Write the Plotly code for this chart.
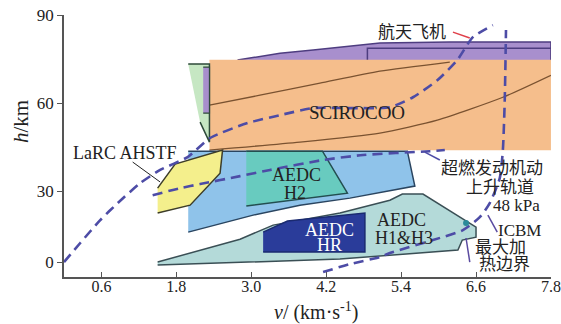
import plotly.graph_objects as go

# ---- axis ticks ----
x_tickvals = [0.6, 1.8, 3.0, 4.2, 5.4, 6.6, 7.8]
x_ticktext = ["0.6", "1.8", "3.0", "4.2", "5.4", "6.6", "7.8"]
y_tickvals = [5.8, 30, 60, 90]
y_ticktext = ["0", "30", "60", "90"]

# ---- regions (v in km/s, h in axis units) ----
shuttle_v = [2.78, 3.46, 3.99, 4.58, 5.06, 6.18, 7.80, 7.80]
shuttle_h = [74.7, 77.0, 78.1, 79.4, 80.5, 80.8, 80.8, 74.7]
shuttle_inner_v = [4.86, 4.86, 7.80]
shuttle_inner_h = [74.7, 78.75, 78.75]

sciro_v = [2.33, 7.80, 7.80, 2.33]
sciro_h = [74.7, 74.7, 44.0, 44.0]
sciro_up_v = [2.33, 3.14, 4.10, 5.06, 6.18]
sciro_up_h = [59.3, 62.7, 66.8, 70.9, 74.0]
sciro_lo_v = [2.33, 3.78, 5.06, 5.98, 7.03, 7.80]
sciro_lo_h = [44.0, 46.7, 49.8, 54.2, 62.0, 69.5]

green_v = [1.99, 2.33, 2.33, 2.18]
green_h = [73.3, 73.3, 46.7, 53.5]
green_in_v = [2.23, 2.33, 2.33, 2.23]
green_in_h = [72.3, 72.3, 56.6, 56.6]

larc_v = [1.50, 1.78, 2.54, 2.50, 2.02, 1.50]
larc_h = [31.0, 39.2, 44.0, 36.1, 25.2, 22.5]

blue_v = [1.99, 5.50, 5.62, 4.58, 3.78, 3.03, 1.99]
blue_h = [43.6, 43.6, 31.7, 27.6, 25.2, 21.8, 16.0]

h2_v = [2.92, 4.14, 4.54, 2.92]
h2_h = [43.6, 43.6, 29.3, 24.9]

h13_v = [1.50, 2.18, 2.82, 3.35, 4.42, 5.22, 5.42, 5.75, 6.30, 6.55, 6.60, 6.60, 6.38, 6.31, 5.22, 4.42, 1.50]
h13_h = [5.8, 9.9, 13.6, 18.4, 22.5, 26.9, 29.0, 29.0, 21.8, 18.4, 17.7, 14.3, 13.3, 9.9, 8.2, 6.8, 4.8]

hr_v = [3.19, 3.58, 4.82, 4.82, 3.19]
hr_h = [16.0, 19.8, 22.5, 9.2, 9.2]

# ---- dashed trajectories ----
traj1_v = [0.0, 0.26, 0.58, 0.86, 1.22, 1.54, 1.98, 2.34, 2.94, 3.46, 3.99, 4.58, 5.22, 5.59, 5.98, 6.30, 6.55, 6.87]
traj1_h = [5.8, 12.3, 20.1, 25.9, 32.7, 37.2, 41.6, 48.1, 53.2, 55.9, 58.3, 58.3, 58.6, 62.0, 67.8, 74.7, 82.5, 86.6]
traj2_v = [1.42, 1.86, 2.18, 2.82, 3.30, 4.15, 4.79, 5.86, 6.10]
traj2_h = [28.6, 31.0, 32.4, 35.1, 37.2, 40.6, 42.3, 43.6, 44.0]
traj3_v = [4.15, 4.58, 5.06, 5.22, 5.91, 6.39, 6.66, 6.82, 6.98, 7.03, 7.06, 7.08]
traj3_h = [2.4, 5.1, 7.5, 8.9, 13.3, 16.7, 21.1, 25.9, 34.4, 44.0, 61.0, 84.9]

# ---- leader lines ----
lead_shuttle_v, lead_shuttle_h = [6.23, 6.50], [84.2, 82.2]
lead_larc_v, lead_larc_h = [1.10, 1.54], [39.9, 33.1]
lead_scram_v, lead_scram_h = [5.78, 6.02], [43.3, 40.6]
lead_icbm_v, lead_icbm_h = [6.94, 6.79], [16.0, 21.8]
lead_heat_v, lead_heat_h = [6.44, 6.50], [14.0, 5.8]

# ---- labels ----
labels = [
    ("航天飞机", 5.58, 84.2, "#222", 17),
    ("SCIROCOO", 4.70, 56.9, "#222", 19),
    ("LaRC AHSTF", 0.97, 43.0, "#222", 18),
    ("AEDC", 3.72, 35.5, "#222", 18),
    ("H2", 3.70, 29.3, "#222", 18),
    ("AEDC", 4.26, 16.9, "#ffffff", 18),
    ("HR", 4.26, 11.7, "#ffffff", 18),
    ("AEDC", 5.40, 20.3, "#222", 18),
    ("H1&H3", 5.45, 14.1, "#222", 18),
    ("超燃发动机动", 6.86, 37.8, "#222", 17),
    ("上升轨道", 6.98, 31.3, "#222", 17),
    ("48 kPa", 7.25, 25.2, "#222", 17),
    ("ICBM", 7.30, 16.7, "#222", 17),
    ("最大加", 6.99, 10.6, "#222", 17),
    ("热边界", 7.06, 4.8, "#222", 17),
]

FONT = "Liberation Serif, Noto Sans CJK SC, serif"

fig = go.Figure()

def poly(v, h, fill, line, width=1.5):
    fig.add_trace(go.Scatter(x=v, y=h, mode="lines", fill="toself", fillcolor=fill,
                             line=dict(color=line, width=width), hoverinfo="skip", showlegend=False))

def line(v, h, color, width=1.2, dash=None, smooth=True):
    ln = dict(color=color, width=width, dash=dash)
    if smooth:
        ln.update(shape="spline", smoothing=0.6)
    fig.add_trace(go.Scatter(x=v, y=h, mode="lines", line=ln,
                             hoverinfo="skip", showlegend=False))

poly(shuttle_v, shuttle_h, "#a88fcd", "#4e3d80")
line(shuttle_inner_v, shuttle_inner_h, "#4e3d80", 1.5, smooth=False)
poly(sciro_v, sciro_h, "#f5be8c", "#f5be8c", 0.5)
line(sciro_up_v, sciro_up_h, "#7a5230", 1.3)
line(sciro_lo_v, sciro_lo_h, "#7a5230", 1.3)
poly(green_v, green_h, "#c6e7c3", "#2e4a3a")
poly(green_in_v, green_in_h, "#a88fcd", "#2e4a3a", 1.2)
poly(blue_v, blue_h, "#8fc3ea", "#2a4560")
poly(h2_v, h2_h, "#68cbbf", "#234e50")
poly(larc_v, larc_h, "#f4ef8c", "#3d3d2a")
poly(h13_v, h13_h, "#b4dad9", "#3a4f55")
poly(hr_v, hr_h, "#2a3c9a", "#1a2a70")

dash_col = "#4d4ca6"
line(traj1_v, traj1_h, dash_col, 2.6, "10px,6px")
line(traj2_v, traj2_h, dash_col, 2.6, "10px,6px")
line(traj3_v, traj3_h, dash_col, 2.6, "10px,6px")

line(lead_shuttle_v, lead_shuttle_h, "#e0404a", 1.5, smooth=False)
line(lead_larc_v, lead_larc_h, "#222", 1.0, smooth=False)
line(lead_scram_v, lead_scram_h, "#4d4ca6", 1.5, smooth=False)
line(lead_icbm_v, lead_icbm_h, "#5a4aa0", 1.5, smooth=False)
line(lead_heat_v, lead_heat_h, "#5a4aa0", 1.5, smooth=False)

fig.add_trace(go.Scatter(x=[6.44], y=[19.1], mode="markers",
                         marker=dict(color="#2a8a9a", size=6), hoverinfo="skip", showlegend=False))

for text, x, y, col, size in labels:
    fig.add_annotation(x=x, y=y, text=text, showarrow=False,
                       font=dict(family=FONT, size=size, color=col), xanchor="center", yanchor="middle")

fig.add_annotation(xref="paper", yref="paper", x=-0.088, y=0.592, xanchor="center", yanchor="middle",
                   text="<i>h</i>/km", textangle=-90,
                   showarrow=False, font=dict(family=FONT, size=21, color="#222"))
fig.add_annotation(xref="paper", yref="paper", x=0.517, y=-0.13, xanchor="center", yanchor="middle",
                   text="<i>v</i>/ (km·s<sup>-1</sup>)",
                   showarrow=False, font=dict(family=FONT, size=20, color="#222"))

fig.update_layout(
    width=561, height=324,
    margin=dict(l=64, r=10, t=15, b=47, autoexpand=False),
    plot_bgcolor="white", paper_bgcolor="white",
    xaxis=dict(range=[0, 7.801], tickvals=x_tickvals, ticktext=x_ticktext, ticks="inside", ticklen=5,
               tickcolor="#555", showline=True, linecolor="#555", linewidth=1.5, showgrid=False,
               zeroline=False, automargin=False, ticklabeloverflow="allow", ticklabelstandoff=-6,
               tickfont=dict(family=FONT, size=16, color="#222")),
    yaxis=dict(range=[0.7, 90.05], tickvals=y_tickvals, ticktext=y_ticktext, ticks="outside", ticklen=5,
               tickcolor="#555", showline=True, linecolor="#555", linewidth=1.5, showgrid=False,
               zeroline=False, automargin=False, ticklabeloverflow="allow",
               tickfont=dict(family=FONT, size=17, color="#222")),
)

# remove the page's default body margin so the figure fills the window exactly
fig.write_html("out.html", config={"displayModeBar": False},
               post_script="document.body.style.margin='0px';document.body.style.overflow='hidden';")
